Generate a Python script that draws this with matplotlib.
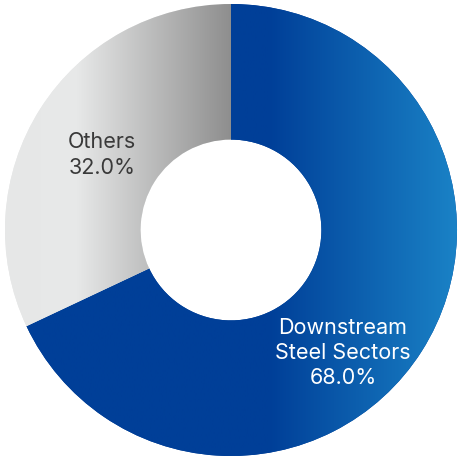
import numpy as np
import matplotlib.pyplot as plt
from matplotlib.colors import to_rgb

labels = ["Downstream\nSteel Sectors", "Others"]
shares = [68.0, 32.0]

# horizontal gradient stops for each slice: (x position, colour)
blue_stops = [(-1.0, "#003f98"), (0.17, "#003f98"), (1.0, "#1a82c6")]
gray_stops = [(-1.0, "#e6e7e7"), (-0.69, "#e8e9e9"), (0.0, "#8e8e8e")]


def gradient(stops, n=400):
    xs = np.linspace(-1, 1, n)
    px = [s[0] for s in stops]
    cols = np.array([to_rgb(s[1]) for s in stops])
    img = np.zeros((1, n, 3))
    for k in range(3):
        img[0, :, k] = np.interp(xs, px, cols[:, k])
    return img


fig = plt.figure(figsize=(4.58, 4.57), dpi=100)
ax = fig.add_axes([5 / 458, 1 / 457, 452 / 458, 452 / 457])

wedges, _ = ax.pie(shares, startangle=90, counterclock=False, radius=1,
                   wedgeprops=dict(width=0.6, linewidth=0, edgecolor="none"))

for w, stops in zip(wedges, [blue_stops, gray_stops]):
    w.set_facecolor(stops[1][1])
    im = ax.imshow(gradient(stops), extent=(-1, 1, -1, 1), aspect="auto",
                   interpolation="bilinear", zorder=w.get_zorder() + 0.1)
    im.set_clip_path(w)

ax.set_xlim(-1, 1)
ax.set_ylim(-1, 1)
ax.set_aspect("equal")
ax.axis("off")

ax.text(0.496, -0.544, labels[0] + "\n" + f"{shares[0]:.1f}%", ha="center", va="center",
        color="white", fontsize=15.5, family="Inter", linespacing=1.33, zorder=5)
ax.text(-0.571, 0.332, labels[1] + "\n" + f"{shares[1]:.1f}%", ha="center", va="center",
        color="#3a3a3a", fontsize=15.5, family="Inter", linespacing=1.33, zorder=5)

fig.savefig("out.png", dpi=100)
